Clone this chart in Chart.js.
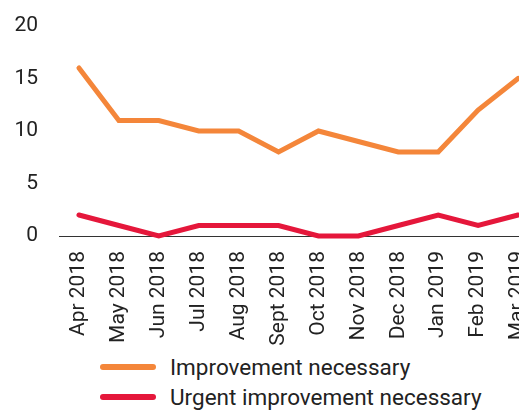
<!DOCTYPE html>
<html>
<head>
<meta charset="utf-8">
<script src="https://cdn.jsdelivr.net/npm/chart.js@4"></script>
<style>
  html, body { margin: 0; padding: 0; background: #fff; overflow: hidden; width: 519px; height: 410px; }
  #c { position: absolute; left: 0; top: 0; }
  #legend { position: absolute; left: 100px; top: 352px; font-family: Roboto, sans-serif; font-size: 22.5px; color: #222; }
  .item { display: flex; align-items: center; height: 30px; }
  .swatch { width: 56px; height: 6px; border-radius: 3px; margin-right: 14px; }
</style>
</head>
<body>
<canvas id="c" width="538" height="350"></canvas>
<div id="legend"></div>
<script>
const categories = ["Apr 2018","May 2018","Jun 2018","Jul 2018","Aug 2018","Sept 2018","Oct 2018","Nov 2018","Dec 2018","Jan 2019","Feb 2019","Mar 2019"];
const improvementNecessary = [16, 11, 11, 10, 10, 8, 10, 9, 8, 8, 12, 15];
const urgentImprovementNecessary = [2, 1, 0, 1, 1, 1, 0, 0, 1, 2, 1, 2];
const seriesNames = ["Improvement necessary", "Urgent improvement necessary"];
const yTicks = [0, 5, 10, 15, 20];

const ORANGE = "#F4863A";
const RED = "#E5173B";

const chart = new Chart(document.getElementById("c"), {
  type: "line",
  data: {
    labels: categories,
    datasets: [
      { label: seriesNames[0], data: improvementNecessary, borderColor: ORANGE, backgroundColor: ORANGE, borderWidth: 5, pointRadius: 0, tension: 0, fill: false, borderJoinStyle: "miter", borderCapStyle: "round" },
      { label: seriesNames[1], data: urgentImprovementNecessary, borderColor: RED, backgroundColor: RED, borderWidth: 5, pointRadius: 0, tension: 0, fill: false, borderJoinStyle: "miter", borderCapStyle: "round" }
    ]
  },
  options: {
    responsive: false,
    animation: false,
    clip: false,
    layout: { padding: { top: 26, left: 0, right: 0, bottom: 0 } },
    plugins: { legend: { display: false }, tooltip: { enabled: false } },
    scales: {
      x: {
        offset: true,
        grid: { display: true, drawOnChartArea: false, drawTicks: false },
        border: { display: true, color: "#333", width: 1 },
        ticks: { minRotation: 90, maxRotation: 90, padding: 15, color: "#222", font: { family: "Roboto", size: 21 } },
        afterFit: (s) => { s.height = 114; s.paddingLeft = 0; s.paddingRight = 0; }
      },
      y: {
        min: 0, max: 20,
        afterBuildTicks: (s) => { s.ticks = yTicks.map(v => ({ value: v })); },
        grid: { display: false, drawTicks: false },
        border: { display: false },
        ticks: { padding: 21, color: "#222", font: { family: "Roboto", size: 21 } },
        afterFit: (s) => { s.width = 59; s.paddingTop = 0; s.paddingBottom = 0; }
      }
    }
  }
});

const legend = document.getElementById("legend");
chart.data.datasets.forEach(ds => {
  const item = document.createElement("div");
  item.className = "item";
  const sw = document.createElement("span");
  sw.className = "swatch";
  sw.style.background = ds.borderColor;
  const tx = document.createElement("span");
  tx.textContent = ds.label;
  item.appendChild(sw);
  item.appendChild(tx);
  legend.appendChild(item);
});
</script>
</body>
</html>
